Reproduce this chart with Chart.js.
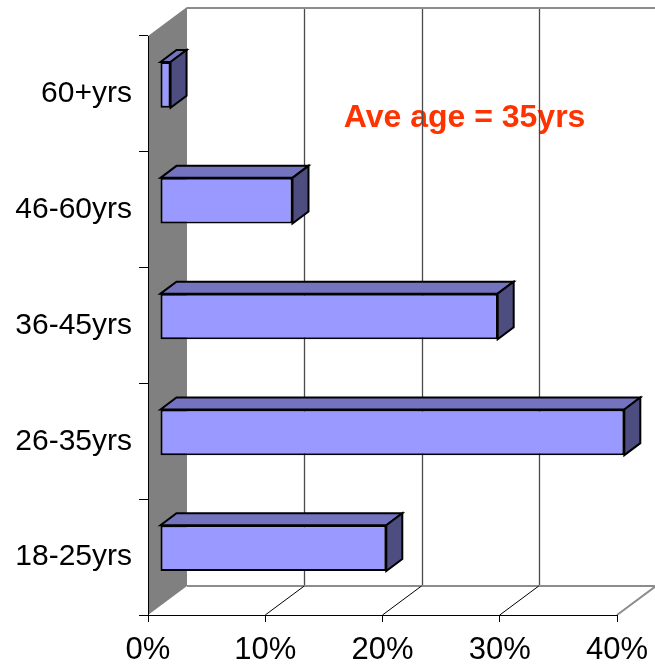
<!DOCTYPE html>
<html>
<head>
<meta charset="utf-8">
<script src="https://cdn.jsdelivr.net/npm/chart.js@4.4.1/dist/chart.umd.min.js"></script>
<style>
  html, body { margin: 0; padding: 0; background: #ffffff; }
  canvas { display: block; }
</style>
</head>
<body>
<canvas id="ages" width="655" height="668"></canvas>
<script>
// Age groups, bottom to top
const categories = ['18-25yrs', '26-35yrs', '36-45yrs', '46-60yrs', '60+yrs'];
// Share of respondents in each group (%)
const shares = [19.3, 39.6, 28.8, 11.3, 0.9];
// Percentage axis ticks
const percentTicks = [0, 10, 20, 30, 40];
const noteText = 'Ave age = 35yrs';

const FONT = '"Liberation Sans", Arial, sans-serif';
const WALL_DEPTH = { dx: 39, dy: -29 };   // oblique depth of the walls / floor
const BAR_SHIFT = { dx: 12, dy: -9 };     // bars sit part-way into the depth
const BAR_DEPTH = { dx: 16, dy: -12 };    // depth of each bar block

const box3d = {
  id: 'box3d',
  beforeDraw(chart) {
    const { ctx, chartArea: ca, scales: { x } } = chart;
    const W = chart.width;
    const { dx, dy } = WALL_DEPTH;
    ctx.save();

    // back wall
    ctx.fillStyle = '#ffffff';
    ctx.fillRect(ca.left + dx, ca.top + dy, W - ca.left - dx, ca.bottom - ca.top);

    // note text sits on the back wall
    ctx.fillStyle = '#ff3300';
    ctx.font = 'bold 32px ' + FONT;
    ctx.textAlign = 'center';
    ctx.textBaseline = 'alphabetic';
    ctx.fillText(noteText, x.getPixelForValue(27), ca.top + 91);

    // back wall grid lines
    ctx.strokeStyle = '#4a4a4a';
    ctx.lineWidth = 1.3;
    percentTicks.slice(1).forEach(v => {
      const px = Math.round(x.getPixelForValue(v) + dx) + 0.5;
      ctx.beginPath();
      ctx.moveTo(px, ca.top + dy);
      ctx.lineTo(px, ca.bottom + dy);
      ctx.stroke();
    });

    // back wall top edge
    ctx.strokeStyle = '#8c8c8c';
    ctx.lineWidth = 2;
    ctx.beginPath();
    ctx.moveTo(ca.left + dx, ca.top + dy + 1);
    ctx.lineTo(W, ca.top + dy + 1);
    ctx.stroke();

    // floor
    const x0 = x.getPixelForValue(percentTicks[0]);
    const xN = x.getPixelForValue(percentTicks[percentTicks.length - 1]);
    ctx.fillStyle = '#ffffff';
    ctx.beginPath();
    ctx.moveTo(x0, ca.bottom);
    ctx.lineTo(x0 + dx, ca.bottom + dy);
    ctx.lineTo(xN + dx, ca.bottom + dy);
    ctx.lineTo(xN, ca.bottom);
    ctx.closePath();
    ctx.fill();

    ctx.strokeStyle = '#8c8c8c';
    ctx.lineWidth = 2;
    ctx.beginPath();
    ctx.moveTo(x0 + dx, ca.bottom + dy);
    ctx.lineTo(xN + dx, ca.bottom + dy);
    ctx.lineTo(xN, ca.bottom);
    ctx.stroke();

    ctx.strokeStyle = '#000000';
    ctx.lineWidth = 1;
    percentTicks.slice(1, -1).forEach(v => {
      const px = x.getPixelForValue(v);
      ctx.beginPath();
      ctx.moveTo(px, ca.bottom);
      ctx.lineTo(px + dx, ca.bottom + dy);
      ctx.stroke();
    });

    // side wall
    ctx.fillStyle = '#808080';
    ctx.beginPath();
    ctx.moveTo(x0, ca.top);
    ctx.lineTo(x0 + dx, ca.top + dy);
    ctx.lineTo(x0 + dx, ca.bottom + dy);
    ctx.lineTo(x0, ca.bottom);
    ctx.closePath();
    ctx.fill();

    ctx.restore();
  },
  beforeDatasetsDraw(chart) {
    const { ctx } = chart;
    ctx.save();
    ctx.translate(BAR_SHIFT.dx, BAR_SHIFT.dy);
    const { dx, dy } = BAR_DEPTH;
    chart.getDatasetMeta(0).data.forEach(el => {
      const { x, y, base, height } = el.getProps(['x', 'y', 'base', 'height'], true);
      const l = Math.min(base, x), r = Math.max(base, x);
      const t = y - height / 2, b = y + height / 2;
      ctx.lineWidth = 2;
      ctx.lineJoin = 'miter';
      ctx.strokeStyle = '#000000';
      // top face
      ctx.fillStyle = '#7373bf';
      ctx.beginPath();
      ctx.moveTo(l, t);
      ctx.lineTo(l + dx, t + dy);
      ctx.lineTo(r + dx, t + dy);
      ctx.lineTo(r, t);
      ctx.closePath();
      ctx.fill();
      ctx.stroke();
      // end face
      ctx.fillStyle = '#4d4d80';
      ctx.beginPath();
      ctx.moveTo(r, t);
      ctx.lineTo(r + dx, t + dy);
      ctx.lineTo(r + dx, b + dy);
      ctx.lineTo(r, b);
      ctx.closePath();
      ctx.fill();
      ctx.stroke();
    });
  },
  afterDatasetsDraw(chart) {
    chart.ctx.restore();
  }
};

new Chart(document.getElementById('ages'), {
  type: 'bar',
  data: {
    labels: categories,
    datasets: [{
      data: shares,
      backgroundColor: '#9999ff',
      borderColor: '#000000',
      borderWidth: 2,
      borderSkipped: false,
      categoryPercentage: 1,
      barPercentage: 0.395,
      clip: false
    }]
  },
  options: {
    indexAxis: 'y',
    responsive: false,
    animation: false,
    events: [],
    layout: { padding: { top: 36, right: 38, left: 0, bottom: 0 } },
    plugins: { legend: { display: false }, tooltip: { enabled: false } },
    scales: {
      x: {
        type: 'linear',
        min: percentTicks[0],
        max: percentTicks[percentTicks.length - 1],
        afterFit(s) { s.height = 53; s.paddingLeft = 0; s.paddingRight = 0; },
        ticks: {
          stepSize: 10,
          callback: v => v + '%',
          color: '#000000',
          font: { family: FONT, size: 31 },
          padding: 10,
          maxRotation: 0
        },
        grid: { drawOnChartArea: false, drawTicks: true, tickLength: 7, color: '#000000', lineWidth: 1 },
        border: { display: true, color: '#000000', width: 1 }
      },
      y: {
        type: 'category',
        reverse: true,
        offset: true,
        afterFit(s) { s.width = 148; s.paddingTop = 0; s.paddingBottom = 0; },
        ticks: {
          color: '#000000',
          font: { family: FONT, size: 30 },
          padding: 7
        },
        grid: { offset: true, drawOnChartArea: false, drawTicks: true, tickLength: 9, color: '#000000', lineWidth: 1 },
        border: { display: true, color: '#000000', width: 1 }
      }
    }
  },
  plugins: [box3d]
});
</script>
</body>
</html>
